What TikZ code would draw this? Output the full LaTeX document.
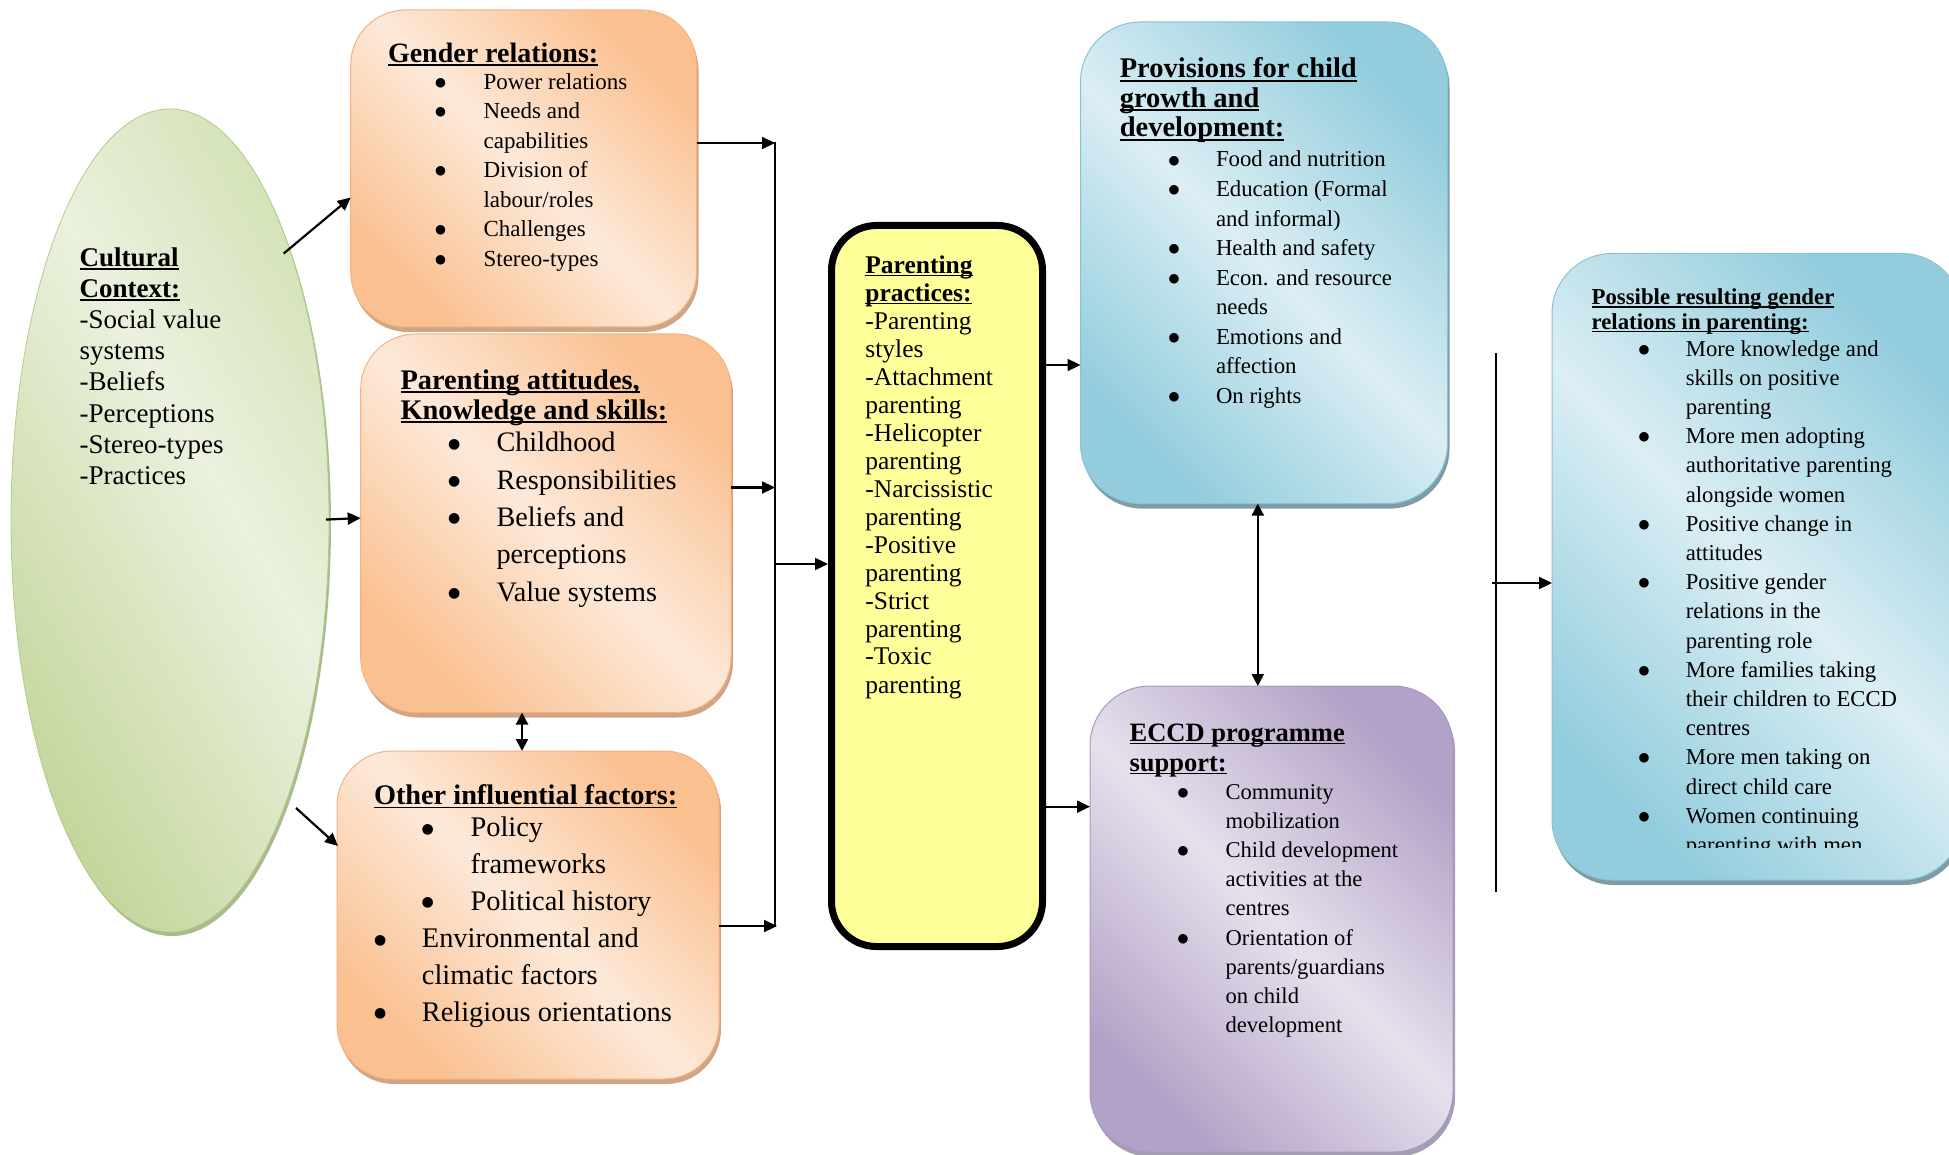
\documentclass[tikz,border=0pt]{standalone}
\usepackage{fontspec}
\setmainfont{Liberation Serif}
\newfontfamily\symfont{DejaVu Sans}
\usetikzlibrary{arrows.meta,shapes.geometric,shadows}
\definecolor{orD}{HTML}{FAC090}
\definecolor{orL}{HTML}{FDE9D9}
\definecolor{orB}{HTML}{F5B183}
\definecolor{orS}{HTML}{CFA584}
\definecolor{blD}{HTML}{93CDDD}
\definecolor{blL}{HTML}{DBEEF4}
\definecolor{blB}{HTML}{86C3D6}
\definecolor{blS}{HTML}{7E9CA6}
\definecolor{puD}{HTML}{B3A2C7}
\definecolor{puL}{HTML}{E6E0EC}
\definecolor{puB}{HTML}{A898C2}
\definecolor{puS}{HTML}{A59DB4}
\definecolor{grD}{HTML}{C3D69B}
\definecolor{grM}{HTML}{D4E3B8}
\definecolor{grL}{HTML}{EBF1DE}
\definecolor{grB}{HTML}{B2CC8A}
\definecolor{grS}{HTML}{A9BB8E}
\definecolor{yel}{HTML}{FFFF99}
\pgfdeclarehorizontalshading{orgrad}{100bp}{color(0bp)=(orD); color(25bp)=(orD); color(50bp)=(orL); color(75bp)=(orD); color(100bp)=(orD)}
\pgfdeclarehorizontalshading{blgrad}{100bp}{color(0bp)=(blD); color(25bp)=(blD); color(50bp)=(blL); color(75bp)=(blD); color(100bp)=(blD)}
\pgfdeclarehorizontalshading{pugrad}{100bp}{color(0bp)=(puD); color(25bp)=(puD); color(50bp)=(puL); color(75bp)=(puD); color(100bp)=(puD)}
\pgfdeclarehorizontalshading{grgrad}{100bp}{color(0bp)=(grD); color(25bp)=(grD); color(56bp)=(grL); color(75bp)=(grM); color(100bp)=(grM)}
\newcommand{\myul}[1]{\leavevmode\setbox0=\hbox{#1}\rlap{\rule[-0.13em]{\wd0}{0.065em}}\box0}
\newcommand{\bul}[1]{\raisebox{0.13em}{\symfont\fontsize{#1}{#1}\selectfont ●}}
\tikzset{
  boxbase/.style={inner sep=0pt, outer sep=0pt, rounded corners=55pt, shade, shading angle=45, line width=1pt},
  orbox/.style={boxbase, shading=orgrad, draw=orB, drop shadow={shadow xshift=2pt, shadow yshift=-5pt, fill=orS, opacity=1}},
  blbox/.style={boxbase, rounded corners=60pt, shading=blgrad, draw=blB, drop shadow={shadow xshift=2pt, shadow yshift=-5pt, fill=blS, opacity=1}},
  pubox/.style={boxbase, rounded corners=60pt, shading=pugrad, draw=puB, drop shadow={shadow xshift=2pt, shadow yshift=-5pt, fill=puS, opacity=1}},
  txt/.style={inner sep=0pt, outer sep=0pt, anchor=north west},
  ttl/.style={inner sep=0pt, outer sep=0pt, anchor=base west},
  arr/.style={line width=2.2pt, -{Triangle[length=13pt,width=12pt]}},
  darr/.style={line width=2.2pt, {Triangle[length=12pt,width=12pt]}-{Triangle[length=12pt,width=12pt]}},
  plain/.style={line width=2.2pt}
}
\begin{document}
\begin{tikzpicture}[x=1pt,y=-1pt]
\path[use as bounding box, clip] (0,0) rectangle (1949,1155);

% shapes
\node[ellipse, minimum width=318pt, minimum height=823pt, inner sep=0pt, shade, shading=grgrad, shading angle=30, draw=grB, line width=0.8pt, drop shadow={shadow xshift=2pt, shadow yshift=-4pt, fill=grS, opacity=1}] (ell) at (170,520.5) {};
\node[orbox, minimum width=345.8pt, minimum height=317pt] (b1) at (523.6,168.5) {};
\node[orbox, minimum width=370.3pt, minimum height=378.5pt] (b2) at (545.85,523.25) {};
\node[orbox, minimum width=382pt, minimum height=328pt] (b3) at (528,915) {};
\node[draw=black, line width=7pt, fill=yel, rounded corners=45pt, inner sep=0pt, minimum width=211pt, minimum height=721pt] (ybox) at (937,586) {};
\node[blbox, minimum width=367pt, minimum height=481.6pt] (prov) at (1264,262.8) {};
\node[pubox, minimum width=363pt, minimum height=466pt] (eccd) at (1271.5,919) {};
\node[blbox, minimum width=410pt, minimum height=626.5pt] (poss) at (1757,566.75) {};

% texts
\node[txt, font=\fontsize{27}{31.2}\selectfont] (cult) at (79.6,244.2) {\begin{tabular}{@{}l@{}}
\textbf{\myul{Cultural}}\\
\textbf{\myul{Context:}}\\
-Social value\\
systems\\
-Beliefs\\
-Perceptions\\
-Stereo-types\\
-Practices
\end{tabular}};

\node[ttl, font=\fontsize{28}{30}\selectfont\bfseries] (t1h) at (388,62.5) {\myul{Gender relations:}};
\node[txt, font=\fontsize{23}{29.5}\selectfont] (t1l) at (435,68.4) {\begin{tabular}{@{}p{48.6pt}@{}l@{}}
\bul{12.5} & Power relations\\
\bul{12.5} & Needs and\\
 & capabilities\\
\bul{12.5} & Division of\\
 & labour/roles\\
\bul{12.5} & Challenges\\
\bul{12.5} & Stereo-types
\end{tabular}};

\node[ttl, font=\fontsize{28.4}{30.5}\selectfont\bfseries] (t2h) at (400.5,389) {\myul{Parenting attitudes,}};
\node[ttl, font=\fontsize{28.4}{30.5}\selectfont\bfseries] (t2i) at (400.5,419.5) {\myul{Knowledge and skills:}};
\node[txt, font=\fontsize{28.2}{37.3}\selectfont] (t2l) at (448,425.7) {\begin{tabular}{@{}p{48.5pt}@{}l@{}}
\bul{14} & Childhood\\
\bul{14} & Responsibilities\\
\bul{14} & Beliefs and\\
 & perceptions\\
\bul{14} & Value systems
\end{tabular}};

\node[ttl, font=\fontsize{28.3}{30}\selectfont\bfseries] (t3h) at (374,804.7) {\myul{Other influential factors:}};
\node[txt, font=\fontsize{28.4}{36.7}\selectfont] (t3a) at (421.5,811.3) {\begin{tabular}{@{}p{49.1pt}@{}l@{}}
\bul{14} & Policy\\
 & frameworks\\
\bul{14} & Political history
\end{tabular}};
\node[txt, font=\fontsize{28.4}{36.7}\selectfont] (t3b) at (374,922.1) {\begin{tabular}{@{}p{47.9pt}@{}l@{}}
\bul{14} & Environmental and\\
 & climatic factors\\
\bul{14} & Religious orientations
\end{tabular}};

\node[txt, font=\fontsize{25.5}{28}\selectfont] (ytxt) at (865.4,253.4) {\begin{tabular}{@{}l@{}}
\textbf{\myul{Parenting}}\\
\textbf{\myul{practices:}}\\
-Parenting\\
styles\\
-Attachment\\
parenting\\
-Helicopter\\
parenting\\
-Narcissistic\\
parenting\\
-Positive\\
parenting\\
-Strict\\
parenting\\
-Toxic\\
parenting
\end{tabular}};

\node[ttl, font=\fontsize{28.5}{29.5}\selectfont\bfseries] (t4h) at (1119.8,78) {\myul{Provisions for child}};
\node[ttl, font=\fontsize{28.5}{29.5}\selectfont\bfseries] (t4i) at (1119.8,107.5) {\myul{growth and}};
\node[ttl, font=\fontsize{28.5}{29.5}\selectfont\bfseries] (t4j) at (1119.8,137) {\myul{development:}};
\node[txt, font=\fontsize{22.8}{29.55}\selectfont] (t4l) at (1168.5,146.3) {\begin{tabular}{@{}p{47.5pt}@{}l@{}}
\bul{12.5} & Food and nutrition\\
\bul{12.5} & Education (Formal\\
 & and informal)\\
\bul{12.5} & Health and safety\\
\bul{12.5} & Econ. and resource\\
 & needs\\
\bul{12.5} & Emotions and\\
 & affection\\
\bul{12.5} & On rights
\end{tabular}};

\node[ttl, font=\fontsize{26.5}{30}\selectfont\bfseries] (t5h) at (1129.6,741) {\myul{ECCD programme}};
\node[ttl, font=\fontsize{26.5}{30}\selectfont\bfseries] (t5i) at (1129.6,771) {\myul{support:}};
\node[txt, font=\fontsize{22.6}{29.2}\selectfont] (t5l) at (1177.5,778.6) {\begin{tabular}{@{}p{48.1pt}@{}l@{}}
\bul{12.5} & Community\\
 & mobilization\\
\bul{12.5} & Child development\\
 & activities at the\\
 & centres\\
\bul{12.5} & Orientation of\\
 & parents/guardians\\
 & on child\\
 & development
\end{tabular}};

\node[ttl, font=\fontsize{22.8}{24.6}\selectfont\bfseries] (t6h) at (1591.6,304.8) {\myul{Possible resulting gender}};
\node[ttl, font=\fontsize{22.8}{24.6}\selectfont\bfseries] (t6i) at (1591.6,329.4) {\myul{relations in parenting:}};
\begin{scope}
\clip (1500,0) rectangle (1949,847);
\node[txt, font=\fontsize{22.7}{29.2}\selectfont] (t6l) at (1638.5,335.6) {\begin{tabular}{@{}p{47.3pt}@{}l@{}}
\bul{12.5} & More knowledge and\\
 & skills on positive\\
 & parenting\\
\bul{12.5} & More men adopting\\
 & authoritative parenting\\
 & alongside women\\
\bul{12.5} & Positive change in\\
 & attitudes\\
\bul{12.5} & Positive gender\\
 & relations in the\\
 & parenting role\\
\bul{12.5} & More families taking\\
 & their children to ECCD\\
 & centres\\
\bul{12.5} & More men taking on\\
 & direct child care\\
\bul{12.5} & Women continuing\\
 & parenting with men
\end{tabular}};
\end{scope}

% junction coordinates
\coordinate (j1) at (775,143);
\coordinate (j2) at (775,487.5);
\coordinate (j3) at (777,926);
\coordinate (jt) at (775,141.9);
\coordinate (jb) at (775,927.1);
\coordinate (jm) at (776,564);
\coordinate (k1) at (1060,365);
\coordinate (k2) at (1060,806.7);
\coordinate (d1) at (1257.8,600);
\coordinate (d2) at (522,730);
\coordinate (r1) at (1496,353);
\coordinate (r2) at (1496,892);
\coordinate (rm) at (1492,583);
\coordinate (e1s) at (283.6,253.6);
\coordinate (e1t) at (352,197.5);
\coordinate (e2s) at (326,519.6);
\coordinate (e2t) at (360,518);
\coordinate (e3s) at (296,808);
\coordinate (e3t) at (338,846);

% connectors
\draw[arr] (e1s) -- (b1.west |- e1t);
\draw[arr] (e2s) -- (b2.west |- e2t);
\draw[arr] (e3s) -- (e3t);
\draw[plain] (jt) -- (jb);
\draw[arr] (b1.east |- j1) -- (j1);
\draw[arr] (b2.east |- j2) -- (j2);
\draw[arr] (b3.east |- j3) -- (j3);
\draw[arr] (jm) -- (ybox.west |- jm);
\draw[arr] (ybox.east |- k1) -- (prov.west |- k1);
\draw[arr] (ybox.east |- k2) -- (eccd.west |- k2);
\draw[darr] (prov.south -| d1) -- (eccd.north -| d1);
\draw[darr] (b2.south -| d2) -- (b3.north -| d2);
\draw[plain] (r1) -- (r2);
\draw[arr] (rm) -- (poss.west |- rm);
\end{tikzpicture}
\end{document}
